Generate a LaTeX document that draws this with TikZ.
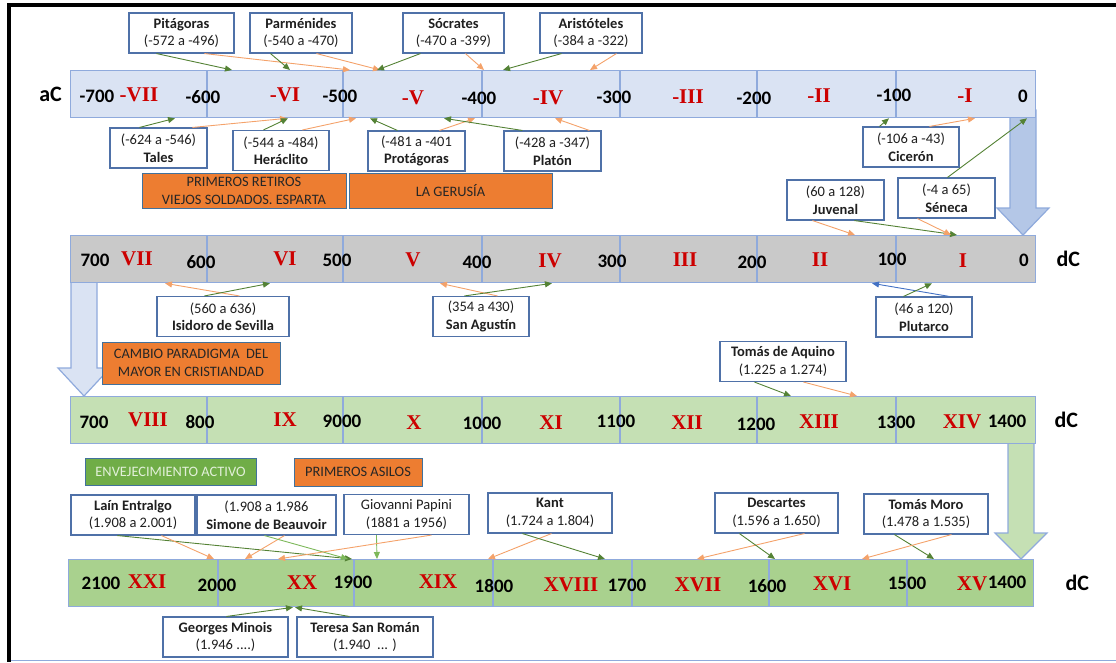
\documentclass[tikz,border=0pt]{standalone}
\usepackage{fontspec}
\setmainfont{Carlito}
\newfontfamily\romfont{Liberation Serif}
\usetikzlibrary{arrows.meta, positioning}

\definecolor{bandblue}{HTML}{DAE3F3}
\definecolor{bandgray}{HTML}{C9C9C9}
\definecolor{bandlgreen}{HTML}{C5E0B4}
\definecolor{bandgreen}{HTML}{A9D18E}
\definecolor{bandedge}{HTML}{8FAADC}
\definecolor{arrowblue}{HTML}{B4C7E7}
\definecolor{boxblue}{HTML}{4F71A8}
\definecolor{oorange}{HTML}{ED7D31}
\definecolor{oedge}{HTML}{41719C}
\definecolor{gbox}{HTML}{70AD47}
\definecolor{gboxtext}{HTML}{E2F0D9}
\definecolor{lnorange}{HTML}{F4A26A}
\definecolor{lndark}{HTML}{548235}
\definecolor{lnlight}{HTML}{7DB85A}
\definecolor{lnblue}{HTML}{4472C4}
\definecolor{romred}{HTML}{CC0000}

\begin{document}
\begin{tikzpicture}[x=1pt, y=-1pt, >={Triangle[length=7pt,width=6pt]}]
  \tikzstyle{band} = [draw=bandedge, line width=1.3pt, rectangle, anchor=north west, minimum width=965pt, minimum height=47pt, inner sep=0pt]
  \tikzstyle{divline} = [draw=bandedge, line width=1.3pt]
  \tikzstyle{bigarrow} = [draw=bandedge, line width=1.2pt, line join=miter]
  \tikzstyle{yr} = [inner sep=0pt, font={\fontsize{19}{21}\selectfont\bfseries}]
  \tikzstyle{rom} = [inner sep=0pt, text=romred, font={\romfont\fontsize{21}{23}\selectfont\bfseries}]
  \tikzstyle{side} = [inner sep=0pt, font={\fontsize{22}{24}\selectfont\bfseries}]
  \tikzstyle{pbox} = [draw=boxblue, fill=white, line width=1.1pt, rectangle, minimum height=40pt, inner sep=1pt, align=center, text=black!88, font={\fontsize{14.5}{17.5}\selectfont}]
  \tikzstyle{obox} = [draw=oedge, fill=oorange, line width=1pt, rectangle, inner sep=0pt, align=center, text=black!85, font={\fontsize{14.4}{18}\selectfont}]
  \tikzstyle{gboxst} = [obox, fill=gbox, text=gboxtext]
  \tikzstyle{garrow} = [draw=lndark, line width=0.9pt, ->]
  \tikzstyle{larrow} = [draw=lnlight, line width=0.9pt, ->]
  \tikzstyle{oarrow} = [draw=lnorange, line width=0.9pt, ->]
  \tikzstyle{barrow} = [draw=lnblue, line width=0.9pt, ->]

  \useasboundingbox (0,0) rectangle (1116,662);

  % frame
  \draw[line width=4pt] (7,5) -- (1116,5);
  \draw[line width=4pt] (9,3) -- (9,662);
  \draw[draw=bandedge, line width=1pt] (11,660) -- (1116,660);

  % big arrows between the bands
  \draw[bigarrow, fill=arrowblue] (1010,110) -- (1036,110) -- (1036,208) -- (1049,208) -- (1023,235) -- (997,208) -- (1010,208) -- cycle;
  \draw[bigarrow, fill=bandblue] (71,275) -- (97,275) -- (97,368) -- (110,368) -- (84,396) -- (58,368) -- (71,368) -- cycle;
  \draw[bigarrow, fill=bandlgreen] (1008,436) -- (1034,436) -- (1034,533) -- (1047,533) -- (1021,559) -- (995,533) -- (1008,533) -- cycle;

  % bands
  \node[band, fill=bandblue] (b1) at (70,70) {};
  \node[band, fill=bandgray] (b2) at (70,235) {};
  \node[band, fill=bandlgreen] (b3) at (70,396) {};
  \node[band, fill=bandgreen] (b4) at (68,559) {};
  \foreach \b in {b1,b2,b3}
    \foreach \d in {137,273,412,550,687,826}
      \draw[divline] ([xshift=\d]\b.north west) -- ([xshift=\d]\b.south west);
  \foreach \d in {150,286,425,564,701,839}
    \draw[divline] ([xshift=\d]b4.north west) -- ([xshift=\d]b4.south west);

  \node[side, left=8pt of b1] (ac) {aC};
  \node[side, right=20pt of b2] (dc1) {dC};
  \node[side, right=18pt of b3] (dc2) {dC};
  \node[side, right=31pt of b4] (dc3) {dC};

  % years and centuries
  \foreach \x/\y/\t [count=\k] in {97/96/-700, 203/97/-600, 340/96/-500, 479/98/-400, 614/97/-300, 754/98/-200, 894/95/-100, 1023/96/0}
    \node[yr] (ya\k) at (\x,\y) {\t};
  \foreach \x/\y/\t [count=\k] in {139/95/-VII, 285/95/-VI, 413/98/-V, 548/98/-IV, 688/97/-III, 819/96/-II, 965/96/-I}
    \node[rom] (ra\k) at (\x,\y) {\t};
  \foreach \x/\y/\t [count=\k] in {95/260/700, 201/262/600, 337/260/500, 477/262/400, 612/261/300, 752/262/200, 892/259/100, 1024/260/0}
    \node[yr] (yb\k) at (\x,\y) {\t};
  \foreach \x/\y/\t [count=\k] in {137/259/VII, 285/259/VI, 413/260/V, 550/261/IV, 685/260/III, 820/260/II, 963/261/I}
    \node[rom] (rb\k) at (\x,\y) {\t};
  \foreach \x/\y/\t [count=\k] in {94/422/700, 200/422/800, 342/421/9000, 482/423/1000, 616/421/1100, 756/424/1200, 896/422/1300, 1007/421/1400}
    \node[yr] (yc\k) at (\x,\y) {\t};
  \foreach \x/\y/\t [count=\k] in {148/420/VIII, 285/420/IX, 414/423/X, 551/423/XI, 687/423/XII, 819/422/XIII, 962/422/XIV}
    \node[rom] (rc\k) at (\x,\y) {\t};
  \foreach \x/\y/\t [count=\k] in {101/583/2100, 217/585/2000, 353/582/1900, 494/586/1800, 627/585/1700, 767/586/1600, 907/583/1500, 1007/582/1400}
    \node[yr] (yd\k) at (\x,\y) {\t};
  \foreach \x/\y/\t [count=\k] in {147/582/XXI, 302/583/XX, 438/582/XIX, 571/585/XVIII, 698/585/XVII, 832/584/XVI, 972/584/XV}
    \node[rom] (rd\k) at (\x,\y) {\t};

  % events
  \node[obox, minimum width=204pt, minimum height=35pt] (retiros) at (244,190.5) {PRIMEROS RETIROS\\VIEJOS SOLDADOS. ESPARTA};
  \node[obox, minimum width=203pt, minimum height=35pt] (gerusia) at (450.5,190.5) {LA GERUSÍA};
  \node[obox, minimum width=178pt, minimum height=42pt] (cambio) at (191,363) {CAMBIO PARADIGMA\ \ DEL\\MAYOR EN CRISTIANDAD};
  \node[gboxst, minimum width=171pt, minimum height=27pt] (activo) at (170.5,471.5) {ENVEJECIMIENTO ACTIVO};
  \node[obox, minimum width=128pt, minimum height=28pt] (asilos) at (358,472) {PRIMEROS ASILOS};

  % authors, first band
  \node[pbox, minimum width=105pt] (pit) at (181.5,33) {\textbf{Pitágoras}\\(-572 a -496)};
  \node[pbox, minimum width=102pt] (par) at (301,33) {\textbf{Parménides}\\(-540 a -470)};
  \node[pbox, minimum width=101pt] (soc) at (453.5,33) {\textbf{Sócrates}\\(-470 a -399)};
  \node[pbox, minimum width=102pt] (ari) at (591,33) {\textbf{Aristóteles}\\(-384 a -322)};
  \node[pbox, minimum width=97pt] (tal) at (158.5,148) {(-624 a -546)\\\textbf{Tales}};
  \node[pbox, minimum width=96pt] (her) at (281,150.5) {(-544 a -484)\\\textbf{Heráclito}};
  \node[pbox, minimum width=97pt] (pro) at (416.5,151) {(-481 a -401\\\textbf{Protágoras}};
  \node[pbox, minimum width=97pt] (pla) at (552.5,151) {(-428 a -347)\\\textbf{Platón}};
  \node[pbox, minimum width=96pt] (cic) at (911,147) {(-106 a -43)\\\textbf{Cicerón}};
  \node[pbox, minimum width=97pt] (juv) at (835.5,200) {(60 a 128)\\\textbf{Juvenal}};
  \node[pbox, minimum width=97pt] (sen) at (946.5,198) {(-4 a 65)\\\textbf{Séneca}};

  % authors, second and third band
  \node[pbox, minimum width=132pt] (isi) at (223,316.5) {(560 a 636)\\\textbf{Isidoro de Sevilla}};
  \node[pbox, minimum width=96pt] (agu) at (481,316.5) {(354 a 430)\\\textbf{San Agustín}};
  \node[pbox, minimum width=96pt] (plu) at (924,317) {(46 a 120)\\\textbf{Plutarco}};
  \node[pbox, minimum width=126pt] (aqu) at (783,361.5) {\textbf{Tomás de Aquino}\\(1.225 a 1.274)};

  % authors, fourth band
  \node[pbox, minimum width=124pt] (lai) at (133,515) {\textbf{Laín Entralgo}\\(1.908 a 2.001)};
  \node[pbox, minimum width=139pt] (sim) at (266.5,515) {(1.908 a 1.986\\\textbf{Simone de Beauvoir}};
  \node[pbox, minimum width=125pt] (pap) at (406.5,514.5) {Giovanni Papini\\(1881 a 1956)};
  \node[pbox, minimum width=124pt] (kan) at (550,513) {\textbf{Kant}\\(1.724 a 1.804)};
  \node[pbox, minimum width=123pt] (des) at (776.5,513) {\textbf{Descartes}\\(1.596 a 1.650)};
  \node[pbox, minimum width=124pt] (mor) at (926,514) {\textbf{Tomás Moro}\\(1.478 a 1.535)};
  \node[pbox, minimum width=125pt] (min) at (225.5,637) {\textbf{Georges Minois}\\(1.946 ....)};
  \node[pbox, minimum width=136pt] (ter) at (365,637) {\textbf{Teresa San Román}\\(1.940\ \ ... )};

  % connectors
  \path ([xshift=28]pit.south west) edge[garrow] ([xshift=162]b1.north west)
        ([xshift=76]pit.south west) edge[oarrow] ([xshift=280]b1.north west)
        ([xshift=21]par.south west) edge[garrow] ([xshift=220]b1.north west)
        ([xshift=67]par.south west) edge[oarrow] ([xshift=310]b1.north west)
        ([xshift=18]soc.south west) edge[garrow] ([xshift=307]b1.north west)
        ([xshift=63]soc.south west) edge[oarrow] ([xshift=414]b1.north west)
        ([xshift=22]ari.south west) edge[garrow] ([xshift=433]b1.north west)
        ([xshift=77]ari.south west) edge[oarrow] ([xshift=520]b1.north west);
  \path ([xshift=30]tal.north west) edge[garrow] ([xshift=105]b1.south west)
        ([xshift=83]tal.north west) edge[oarrow] ([xshift=217]b1.south west)
        ([xshift=31]her.north west) edge[garrow] ([xshift=218]b1.south west)
        ([xshift=70]her.north west) edge[oarrow] ([xshift=286]b1.south west)
        ([xshift=30]pro.north west) edge[garrow] ([xshift=300]b1.south west)
        ([xshift=72]pro.north west) edge[oarrow] ([xshift=405]b1.south west)
        ([xshift=19]pla.north west) edge[garrow] ([xshift=374]b1.south west)
        ([xshift=86]pla.north west) edge[oarrow] ([xshift=485]b1.south west)
        ([xshift=17]cic.north west) edge[garrow] ([xshift=819]b1.south west)
        ([xshift=67]cic.north west) edge[oarrow] ([xshift=905]b1.south west)
        ([xshift=50]sen.north west) edge[garrow] ([xshift=957]b1.south west);
  \path ([xshift=26]juv.south west) edge[oarrow] ([xshift=785]b2.north west)
        ([xshift=68]juv.south west) edge[garrow] ([xshift=887]b2.north west)
        ([xshift=20]sen.south west) edge[oarrow] ([xshift=881]b2.north west);
  \path ([xshift=83]isi.north west) edge[oarrow] ([xshift=95]b2.south west)
        ([xshift=48]isi.north west) edge[garrow] ([xshift=200]b2.south west)
        ([xshift=65]agu.north west) edge[oarrow] ([xshift=370]b2.south west)
        ([xshift=32]agu.north west) edge[garrow] ([xshift=482]b2.south west)
        ([xshift=74]plu.north west) edge[barrow] ([xshift=802]b2.south west)
        ([xshift=28]plu.north west) edge[garrow] ([xshift=862]b2.south west);
  \path ([xshift=35]aqu.south west) edge[garrow] ([xshift=721]b3.north west)
        ([xshift=84]aqu.south west) edge[oarrow] ([xshift=787]b3.north west);
  \path ([xshift=47]lai.south west) edge[garrow] ([xshift=284]b4.north west)
        ([xshift=91]lai.south west) edge[oarrow] ([xshift=146]b4.north west)
        ([xshift=88]sim.south west) edge[oarrow] ([xshift=177]b4.north west)
        ([xshift=68]sim.south west) edge[larrow] ([xshift=280]b4.north west)
        ([xshift=33]pap.south west) edge[larrow] ([xshift=309]b4.north west)
        ([xshift=88]pap.south west) edge[oarrow] ([xshift=210]b4.north west)
        ([xshift=64]kan.south west) edge[oarrow] ([xshift=420]b4.north west)
        ([xshift=35]kan.south west) edge[garrow] ([xshift=537]b4.north west)
        ([xshift=90]des.south west) edge[oarrow] ([xshift=629]b4.north west)
        ([xshift=25]des.south west) edge[garrow] ([xshift=707]b4.north west)
        ([xshift=31]mor.south west) edge[garrow] ([xshift=866]b4.north west)
        ([xshift=88]mor.south west) edge[oarrow] ([xshift=794]b4.north west);
  \path ([xshift=64]min.north west) edge[garrow] ([xshift=225]b4.south west)
        ([xshift=53]ter.north west) edge[garrow] ([xshift=227]b4.south west);
\end{tikzpicture}
\end{document}
